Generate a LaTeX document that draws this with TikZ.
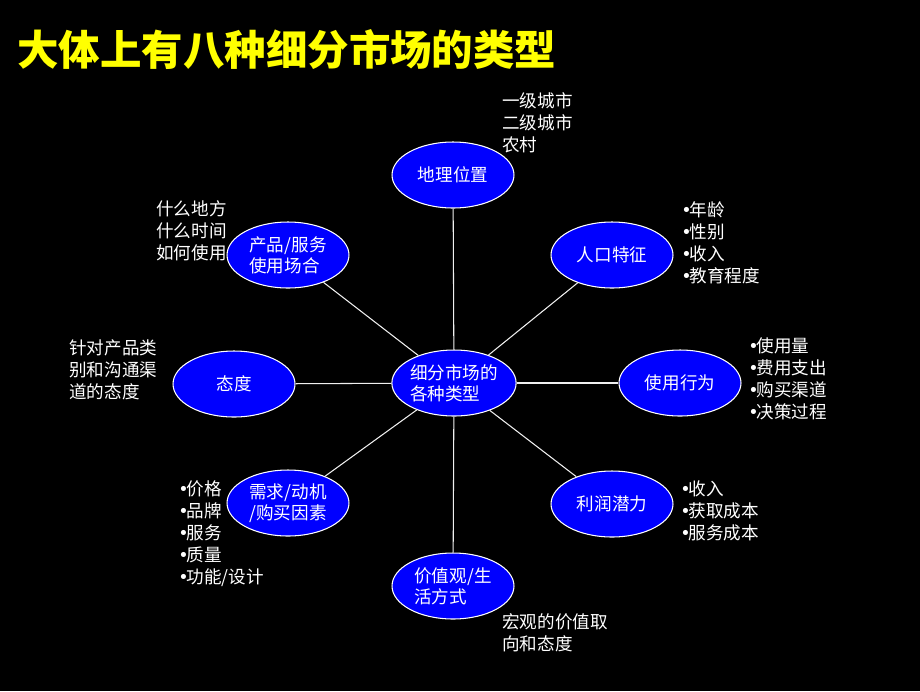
\documentclass[tikz,border=0pt]{standalone}
\usepackage{fontspec}
\setmainfont{Noto Sans CJK SC}
\newfontfamily\dejavu{DejaVu Sans}
\usetikzlibrary{shapes.geometric, positioning}
\definecolor{segblue}{RGB}{0, 0, 255}
\definecolor{titleyellow}{RGB}{255, 255, 0}
\definecolor{linkcolor}{RGB}{240, 240, 240}
\newcommand{\itembullet}{\makebox[0.48em][l]{\dejavu •}}
\tikzset{
  segblock/.style={ellipse, minimum width=2.44cm, minimum height=1.32cm, inner sep=0pt, fill=segblue, draw=white, line width=0.6pt, text=white, align=left, font=\fontsize{10}{11.8}\selectfont},
  notetext/.style={anchor=north west, inner sep=0pt, text=white, align=left, font=\fontsize{10}{12.5}\selectfont},
  link/.style={draw=linkcolor, line width=0.6pt}
}

\begin{document}
\begin{tikzpicture}[x=0.02cm, y=-0.02cm]

  \fill[black] (0,0) rectangle (920,691);
  \useasboundingbox (0,0) rectangle (920,691);

  \node[anchor=west, inner sep=0pt, text=titleyellow, font=\fontsize{23.6}{23.6}\selectfont\bfseries] (title) at (17,50) {大体上有八种细分市场的类型};

  % hub and the eight segment types
  \node[segblock] (hub)      at (454,383) {细分市场的\\各种类型};
  \node[segblock] (geo)      at (453,175) {地理位置};
  \node[segblock] (usage)    at (288,255) {产品/服务\\使用场合};
  \node[segblock] (demo)     at (612,255) {人口特征};
  \node[segblock] (attitude) at (234,384) {态度};
  \node[segblock] (behav)    at (680,383) {使用行为};
  \node[segblock] (needs)    at (288,503) {需求/动机\\/购买因素};
  \node[segblock] (profit)   at (612,504) {利润潜力};
  \node[segblock] (values)   at (453,586) {价值观/生\\活方式};

  \foreach \n in {geo, usage, demo, attitude, behav, needs, profit, values}
    \draw[link] (hub) -- (\n);

  % side notes
  \node[notetext] (geonote)      at (502,92)  {一级城市\\二级城市\\农村};
  \node[notetext] (usagenote)    at (156,200) {什么地方\\什么时间\\如何使用};
  \node[notetext] (demonote)     at (681,201) {\itembullet 年龄\\\itembullet 性别\\\itembullet 收入\\\itembullet 教育程度};
  \node[notetext] (attitudenote) at (69,339)  {针对产品类\\别和沟通渠\\道的态度};
  \node[notetext] (behavnote)    at (748,337) {\itembullet 使用量\\\itembullet 费用支出\\\itembullet 购买渠道\\\itembullet 决策过程};
  \node[notetext] (needsnote)    at (178,480) {\itembullet 价格\\\itembullet 品牌\\\itembullet 服务\\\itembullet 质量\\\itembullet 功能/设计};
  \node[notetext] (profitnote)   at (680,480) {\itembullet 收入\\\itembullet 获取成本\\\itembullet 服务成本};
  \node[notetext] (valuesnote)   at (502,613) {宏观的价值取\\向和态度};

\end{tikzpicture}
\end{document}
